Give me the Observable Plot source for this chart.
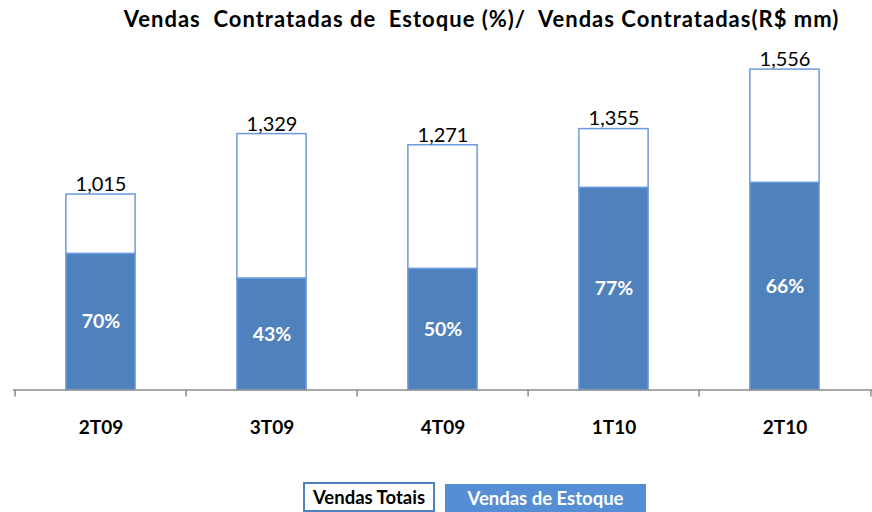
<!DOCTYPE html>
<html><head><meta charset="utf-8">
<script src="https://cdn.jsdelivr.net/npm/d3@7"></script>
<script src="https://cdn.jsdelivr.net/npm/@observablehq/plot@0.6"></script>
<style>
body{margin:0;background:#fff;font-family:Lato,"Noto Sans",sans-serif;}
#wrap{width:872px;height:512px;position:relative;overflow:hidden;background:#fff;}
#title{position:absolute;left:0;top:1px;width:872px;height:36px;line-height:36px;text-align:center;font-weight:bold;font-size:22px;letter-spacing:1px;padding-left:91px;box-sizing:border-box;white-space:pre;color:#000;}
#chart{position:absolute;left:0;top:36px;}
#legend{position:absolute;left:0;top:476px;width:872px;height:36px;}
.lg{position:absolute;box-sizing:border-box;font-weight:bold;font-size:18.5px;display:flex;align-items:center;justify-content:center;}
#lg1{left:303px;top:6px;width:132px;height:30px;border:2px solid #4F81BD;background:#fff;color:#000;}
#lg2{left:445px;top:8px;width:201px;height:28px;background:#558ED5;color:#fff;}
</style></head>
<body>
<div id="wrap">
  <div id="title">Vendas  Contratadas de  Estoque (%)/  Vendas Contratadas(R$ mm)</div>
  <div id="chart"></div>
  <div id="legend">
    <div class="lg" id="lg1">Vendas Totais</div>
    <div class="lg" id="lg2">Vendas de Estoque</div>
  </div>
</div>
<script>
const categories = ["2T09", "3T09", "4T09", "1T10", "2T10"];
const totalLabels = [1015, 1329, 1271, 1355, 1556];
const barTotals = [1015, 1329, 1271, 1355, 1664];
const stockValues = [707, 579, 629, 1050, 1076];
const stockPct = [70, 43, 50, 77, 66];

const rows = categories.map((c, i) => ({
  cat: c, total: barTotals[i], label: totalLabels[i], stock: stockValues[i], pct: stockPct[i]
}));

const fmt = d3.format(",");
const W = 872, H = 440, ML = 13, MR = 0;
const band = (W - ML - MR) / categories.length;
const inset = (band - 70) / 2;

const chart = Plot.plot({
  width: W, height: H,
  marginLeft: ML, marginRight: MR, marginTop: 20, marginBottom: 86.5,
  style: {fontFamily: "Lato, 'Noto Sans', sans-serif", color: "#000", background: "#fff"},
  x: {domain: categories, padding: 0, label: null},
  y: {domain: [0, 1732], axis: null},
  marks: [
    Plot.barY(rows, {x: "cat", y1: 0, y2: "stock", fill: "#4F81BD", stroke: "#6A9BE0", strokeWidth: 1.5, insetLeft: inset, insetRight: inset}),
    Plot.barY(rows, {x: "cat", y1: "stock", y2: "total", fill: "#fff", stroke: "#6A9BE0", strokeWidth: 1.5, insetLeft: inset, insetRight: inset}),
    Plot.ruleY([0], {stroke: "#8c8c8c", strokeWidth: 1.5}),
    Plot.ruleX(categories, {x: d => d, y1: 0, y2: 0, dx: -band / 2, insetBottom: -7, stroke: "#8c8c8c", strokeWidth: 1.5}),
    Plot.ruleX(categories.slice(-1), {x: d => d, y1: 0, y2: 0, dx: band / 2, insetBottom: -7, stroke: "#8c8c8c", strokeWidth: 1.5}),
    Plot.text(rows, {x: "cat", y: "total", text: d => fmt(d.label), dy: -10, fontSize: 20, fill: "#000"}),
    Plot.text(rows, {x: "cat", y: d => d.stock / 2, text: d => d.pct + "%", fill: "#fff", fontWeight: "bold", fontSize: 19.5}),
    Plot.axisX({tickSize: 0, tickPadding: 30, fontSize: 19, fontWeight: "bold", label: null})
  ]
});
document.getElementById("chart").appendChild(chart);
</script>
</body></html>
